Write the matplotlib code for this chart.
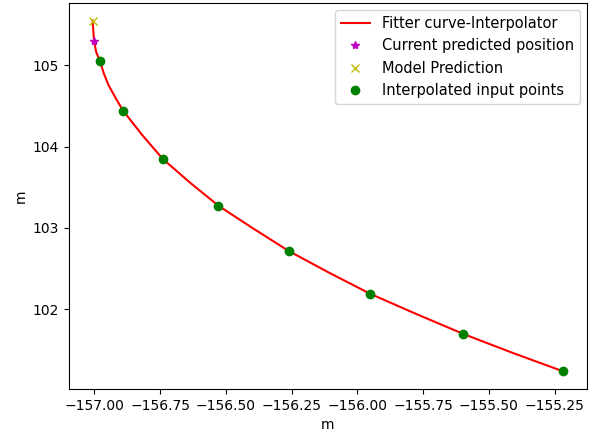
import matplotlib
matplotlib.use("Agg")
import matplotlib.pyplot as plt

# Fitted curve
curve_x = [-157.007, -157.001, -156.993, -156.978, -156.964, -156.946, -156.918,
           -156.890, -156.819, -156.739, -156.637, -156.528, -156.398, -156.261,
           -156.110, -155.951, -155.777, -155.597, -155.408, -155.216]
curve_y = [105.553, 105.297, 105.163, 105.049, 104.901, 104.757, 104.592,
           104.441, 104.147, 103.847, 103.560, 103.273, 102.998, 102.717,
           102.454, 102.190, 101.943, 101.696, 101.461, 101.234]

# Current predicted position
pred_x = [-157.002]
pred_y = [105.297]

# Model prediction
model_x = [-157.007]
model_y = [105.553]

# Interpolated input points
pts_x = [-156.978, -156.890, -156.739, -156.528, -156.261, -155.951, -155.597, -155.216]
pts_y = [105.053, 104.441, 103.847, 103.273, 102.717, 102.190, 101.696, 101.234]

fig = plt.figure(figsize=(5.92, 4.34), dpi=100)
ax = fig.add_axes([69/592, 45/434, (587-69)/592, (389-3)/434])
ax.plot(curve_x, curve_y, 'r-', label='Fitter curve-Interpolator')
ax.plot(pred_x, pred_y, 'm*', label='Current predicted position')
ax.plot(model_x, model_y, 'yx', label='Model Prediction')
ax.plot(pts_x, pts_y, 'go', label='Interpolated input points')
ax.set_yticks([102, 103, 104, 105])
ax.set_xlabel('m')
ax.set_ylabel('m')
ax.legend(loc='upper right', fontsize=10.5)
fig.savefig('out.png', dpi=100)
